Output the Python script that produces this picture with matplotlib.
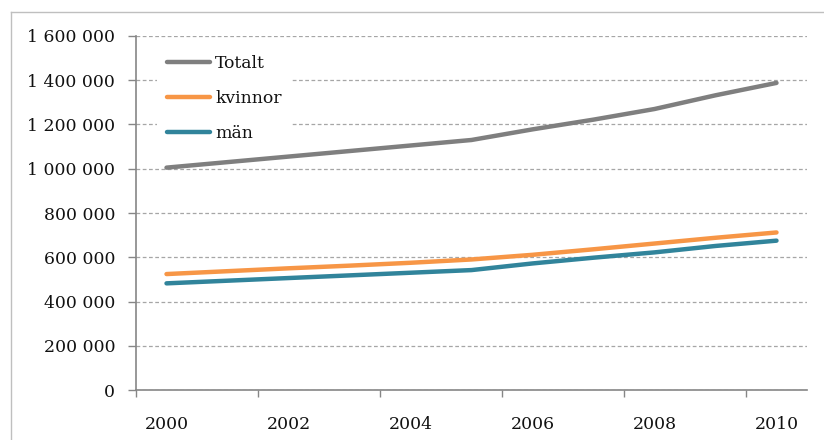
import matplotlib
matplotlib.use('Agg')
import matplotlib.pyplot as plt
from matplotlib.ticker import FixedLocator, FuncFormatter, NullFormatter
from matplotlib.lines import Line2D

# Data
years = [2000, 2001, 2002, 2003, 2004, 2005, 2006, 2007, 2008, 2009, 2010]
totalt = [1005000, 1030000, 1055000, 1080000, 1105000, 1130000,
          1178000, 1222000, 1270000, 1332000, 1388000]
kvinnor = [524000, 537000, 550000, 562000, 575000, 590000,
           611000, 636000, 662000, 688000, 712000]
man = [482000, 494000, 506000, 518000, 530000, 542000,
       572000, 598000, 622000, 651000, 675000]
series_names = ['Totalt', 'kvinnor', 'män']
year_labels = ['2000', '2002', '2004', '2006', '2008', '2010']
y_ticks = [0, 200000, 400000, 600000, 800000, 1000000, 1200000, 1400000, 1600000]

colors = ['#7f7f7f', '#f79646', '#31849b']
font = 'DejaVu Serif'
fs = 12.4

fig = plt.figure(figsize=(8.24, 4.4), dpi=100, facecolor='white')
ax = fig.add_axes([136/824, 1 - 390/440, (807-136)/824, (390-36)/440])

for vals, name, c in zip([totalt, kvinnor, man], series_names, colors):
    ax.plot(years, vals, color=c, lw=3.2, label=name,
            solid_capstyle='round', solid_joinstyle='round', zorder=3)

ax.set_xlim(1999.5, 2010.5)
ax.set_ylim(0, 1600000)

# category style axis: tick marks between categories, labels on even years
ax.xaxis.set_major_locator(FixedLocator([1999.5, 2001.5, 2003.5, 2005.5, 2007.5, 2009.5]))
ax.xaxis.set_major_formatter(NullFormatter())
ax.xaxis.set_minor_locator(FixedLocator([int(y) for y in year_labels]))
ax.xaxis.set_minor_formatter(FuncFormatter(lambda v, p: '%d' % round(v)))
ax.tick_params(axis='x', which='major', length=5, width=1, color='#868686', direction='out')
ax.tick_params(axis='x', which='minor', length=0, pad=19)

ax.yaxis.set_major_locator(FixedLocator(y_ticks))
ax.yaxis.set_major_formatter(FuncFormatter(lambda v, p: format(int(v), ',').replace(',', ' ')))
ax.tick_params(axis='y', length=6, width=1, color='#868686', direction='out', pad=9)

for lab in ax.get_xticklabels(minor=True) + ax.get_yticklabels():
    lab.set_fontfamily(font)
    lab.set_fontsize(fs)
    lab.set_color('#111111')

ax.grid(True, axis='y', color='#a6a6a6', linestyle=(0, (3, 2)), lw=0.9, zorder=0)
ax.set_axisbelow(True)

for s in ['top', 'right']:
    ax.spines[s].set_visible(False)
for s in ['left', 'bottom']:
    ax.spines[s].set_color('#868686')
    ax.spines[s].set_linewidth(1.2)

leg = ax.legend(loc='upper left', bbox_to_anchor=(0.031, 0.975), borderaxespad=0,
                prop={'family': font, 'size': fs}, handlelength=2.5,
                handletextpad=0.3, labelspacing=1.05, borderpad=0.6,
                frameon=True, fancybox=False, framealpha=1)
leg.get_frame().set_facecolor('white')
leg.get_frame().set_edgecolor('none')
leg.set_zorder(5)
for t in leg.get_texts():
    t.set_color('#111111')

# outer chart frame (light gray, top and left edges)
fig.add_artist(Line2D([11/824, 1], [1 - 12/440, 1 - 12/440], color='#bfbfbf', lw=1))
fig.add_artist(Line2D([11/824, 11/824], [0, 1 - 12/440], color='#bfbfbf', lw=1))

fig.savefig('out.png', dpi=100, facecolor='white')
